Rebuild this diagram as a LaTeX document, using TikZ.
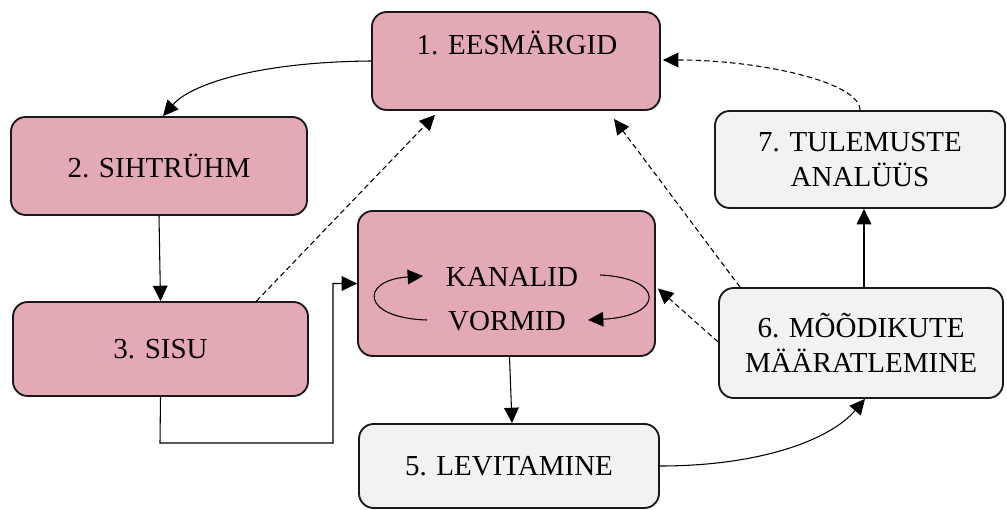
\documentclass[tikz,border=0pt]{standalone}
\usepackage{fontspec}
\setmainfont{Liberation Serif}
\newfontfamily\timesfam{Liberation Serif}
\usetikzlibrary{arrows.meta,calc}
\definecolor{pinkfill}{HTML}{E3A9B4}
\definecolor{greyfill}{HTML}{F2F2F2}
\tikzset{
  boxbase/.style={draw=black!90, line width=1.4pt, rounded corners=11pt, inner sep=0pt, align=center,
    font=\timesfam\fontsize{21.75}{26.25}\selectfont},
  pinkbox/.style={boxbase, fill=pinkfill},
  greybox/.style={boxbase, fill=greyfill},
  lbl/.style={inner sep=0pt, anchor=base, font=\timesfam\fontsize{21.75}{26.25}\selectfont},
  arr/.style={line width=0.8pt, -{Triangle[length=11.5pt,width=11pt]}},
  darr/.style={arr, dash pattern=on 4pt off 2.5pt},
}
\begin{document}
\begin{tikzpicture}[x=0.75pt,y=-0.75pt]
\useasboundingbox (0,0) rectangle (1007,510);
% boxes
\node[pinkbox, minimum width=216pt, minimum height=73.5pt] (b1) at (516,61) {};
\node[lbl] (t1) at (517,54.6) {1. EESMÄRGID};
\node[pinkbox, minimum width=222pt, minimum height=73.5pt] (b2) at (159,166) {2. SIHTRÜHM};
\node[pinkbox, minimum width=221.25pt, minimum height=70.5pt] (b3) at (160.5,349) {3. SISU};
\node[pinkbox, minimum width=222.75pt, minimum height=108.75pt] (b4) at (506.5,283.5) {};
\node[lbl] (t4a) at (512,286.5) {KANALID};
\node[lbl] (t4b) at (507,330) {VORMID};
\node[greybox, minimum width=225pt, minimum height=63pt] (b5) at (509,466) {5. LEVITAMINE};
\node[greybox, minimum width=213pt, minimum height=82.5pt] (b6) at (861,343) {6. MÕÕDIKUTE\\MÄÄRATLEMINE};
\node[greybox, minimum width=217.5pt, minimum height=72.75pt] (b7) at (860,159.5) {7. TULEMUSTE\\ANALÜÜS};
% inner loops
\coordinate (l1) at (427,320);
\coordinate (l2) at (423,276);
\coordinate (r1) at (600,275);
\coordinate (r2) at (588,320);
\draw[arr] (l1) .. controls (360,318) and (360,280) .. (l2);
\draw[arr] (r1) .. controls (665,278) and (665,316) .. (r2);
% connectors
\draw[arr] (b1.west) .. controls (255,62) and (190,85) .. ($(b2.north)+(4,0)$);
\draw[arr] (b2.south) -- (b3.north);
\draw[arr] (b3.south) -- (160,443) -- (333,443) |- (b4.west);
\draw[darr] ($(b3.north)+(96,0)$) -- ($(b1.south)+(-81,4)$);
\draw[arr] ($(b4.south)+(3,0)$) -- ($(b5.north)+(3,0)$);
\draw[arr] (b5.east) .. controls (760,466) and (830,440) .. ($(b6.south)+(4,0)$);
\draw[arr] ($(b6.north)+(3,0)$) -- ($(b7.south)+(4,0)$);
\draw[darr] ($(b6.north)+(-121,0)$) -- ($(b1.south)+(98,8)$);
\draw[darr] ($(b6.west)+(0,-1)$) -- ($(b4.east)+(2,5)$);
\draw[darr] (b7.north) .. controls (860,82) and (760,60) .. ($(b1.east)+(2,-1)$);
\end{tikzpicture}
\end{document}
